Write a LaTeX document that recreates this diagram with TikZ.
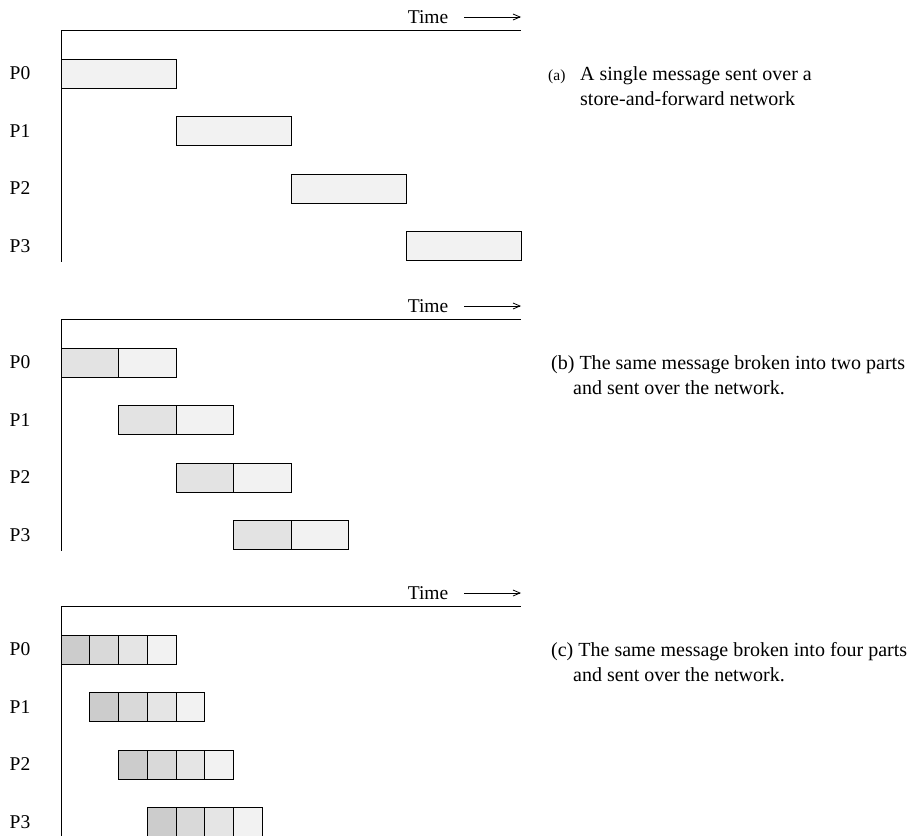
\documentclass[tikz,border=0pt]{standalone}
\usepackage{fontspec}
\setmainfont{Liberation Serif}
\usetikzlibrary{arrows.meta}
\begin{document}
\begin{tikzpicture}[x=1pt,y=-1pt,
  lbl/.style={font=\fontsize{19.5}{23}\selectfont, inner sep=0pt},
  captext/.style={font=\fontsize{20}{23}\selectfont, inner sep=0pt, anchor=west},
  axis/.style={line width=0.9pt},
  cell/.style={draw, line width=0.8pt, inner sep=0pt, outer sep=0pt, anchor=north west, minimum height=29pt},
  timearrow/.style={line width=0.8pt, -{Straight Barb[length=7pt,width=6pt]}}]
\useasboundingbox (0,0) rectangle (909,835);

% three timing panels; \t is the y of each panel's top axis line
\foreach \t/\p in {30/a, 319/b, 606/c} {
  \draw[axis] (61,\t) coordinate (ax\p) -- (521,\t) coordinate (axe\p);
  \draw[axis] (ax\p) -- (61,\t+232) coordinate (axb\p);
  \node[lbl] (time\p) at (428,\t-13) {Time};
  \coordinate (tend\p) at (521,\t-13);
  \draw[timearrow] ([xshift=16pt]time\p.east) -- (tend\p);
  \foreach \i in {0,1,2,3} {
    \node[lbl] (lab\p\i) at (20,\t+43.5+57.5*\i) {P\i};
  }
}

% (a) whole message, one block per processor
\foreach \i in {0,1,2,3} {
  \node[cell, fill=black!5, minimum width=115pt] (a\i) at (61+115*\i, 59+57.5*\i) {};
}

% (b) two parts
\foreach \i in {0,1,2,3} {
  \node[cell, fill=black!11, minimum width=57.5pt] (b\i x0) at (61+57.5*\i, 348+57.5*\i) {};
  \node[cell, fill=black!5, minimum width=57.5pt] (b\i x1) at (118.5+57.5*\i, 348+57.5*\i) {};
}

% (c) four parts
\foreach \i in {0,1,2,3} {
  \foreach \k/\s in {0/20, 1/15, 2/10, 3/5} {
    \node[cell, fill=black!\s, minimum width=28.75pt] (c\i x\k) at (61+28.75*\i+28.75*\k, 635+57.5*\i) {};
  }
}

% captions
\node[captext, font=\fontsize{15.5}{17}\selectfont] (capa0) at (548,77) {(a)};
\node[captext] (capa1) at (580,76) {A single message sent over a};
\node[captext] (capa2) at (580,99) {store-and-forward network};
\node[captext] (capb1) at (551,365) {(b) The same message broken into two parts};
\node[captext] (capb2) at (573,388) {and sent over the network.};
\node[captext] (capc1) at (551,652) {(c) The same message broken into four parts};
\node[captext] (capc2) at (573,675) {and sent over the network.};
\end{tikzpicture}
\end{document}
